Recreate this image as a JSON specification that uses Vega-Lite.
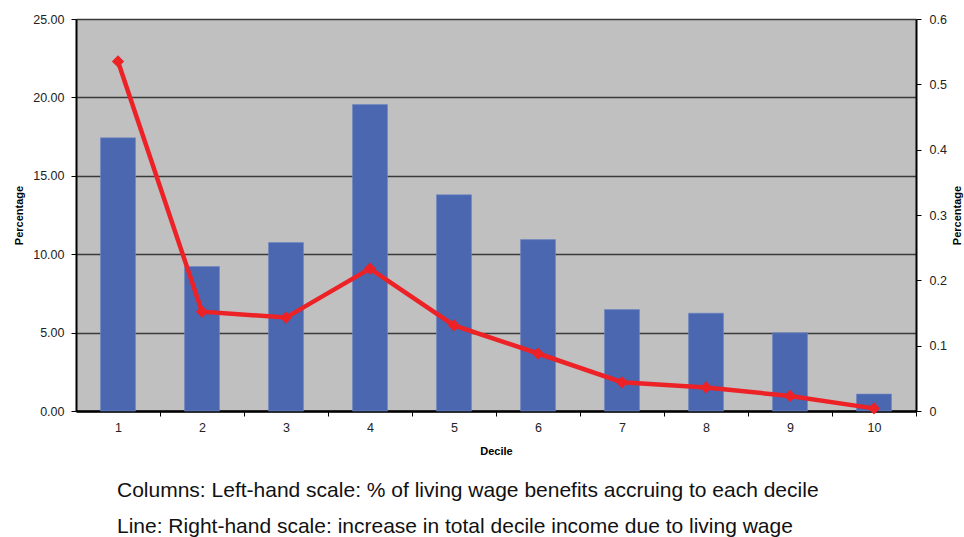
{
  "$schema": "https://vega.github.io/schema/vega-lite/v6.json",
  "autosize": "none",
  "width": 840,
  "height": 392,
  "padding": {"left": 76, "top": 19, "right": 48, "bottom": 126},
  "background": "white",
  "config": {
    "font": "Liberation Sans",
    "view": {"fill": "#c0c0c0", "stroke": null},
    "axis": {
      "labelFont": "Liberation Sans",
      "labelFontSize": 12.5,
      "labelColor": "#222222",
      "labelOverlap": false,
      "titleFont": "Liberation Sans",
      "titleFontSize": 11,
      "titleFontWeight": "bold",
      "titleColor": "#000000",
      "domainColor": "#000000",
      "domainWidth": 2,
      "tickColor": "#000000",
      "tickSize": 5,
      "tickWidth": 1
    }
  },
  "title": {
    "text": [
      "Columns: Left-hand scale: % of living wage benefits accruing to each decile",
      "Line: Right-hand scale: increase in total decile income due to living wage"
    ],
    "orient": "bottom",
    "anchor": "start",
    "frame": "group",
    "dx": 41,
    "offset": 23,
    "font": "Liberation Sans",
    "fontSize": 21,
    "fontWeight": "normal",
    "color": "#111111",
    "lineHeight": 36
  },
  "data": {
    "values": [
      {"decile": 1, "benefit_share": 17.42, "income_increase": 0.535},
      {"decile": 2, "benefit_share": 9.21, "income_increase": 0.152},
      {"decile": 3, "benefit_share": 10.74, "income_increase": 0.143},
      {"decile": 4, "benefit_share": 19.54, "income_increase": 0.218},
      {"decile": 5, "benefit_share": 13.79, "income_increase": 0.131},
      {"decile": 6, "benefit_share": 10.93, "income_increase": 0.088},
      {"decile": 7, "benefit_share": 6.47, "income_increase": 0.044},
      {"decile": 8, "benefit_share": 6.24, "income_increase": 0.036},
      {"decile": 9, "benefit_share": 4.99, "income_increase": 0.023},
      {"decile": 10, "benefit_share": 1.08, "income_increase": 0.004}
    ]
  },
  "encoding": {
    "x": {
      "field": "decile",
      "type": "ordinal",
      "scale": {"paddingInner": 0.583, "paddingOuter": 0.2915},
      "axis": {
        "title": "Decile",
        "titlePadding": 12,
        "labelAngle": 0,
        "labelPadding": 5,
        "tickOffset": 42,
        "labelOffset": -42,
        "domainWidth": 2.5
      }
    }
  },
  "layer": [
    {
      "mark": {"type": "bar", "color": "#4a67b0", "stroke": "#6f87c4", "strokeWidth": 0.6},
      "encoding": {
        "y": {
          "field": "benefit_share",
          "type": "quantitative",
          "scale": {"domain": [0, 25], "nice": false},
          "axis": {
            "title": "Percentage",
            "titlePadding": 8,
            "format": ".2f",
            "values": [0, 5, 10, 15, 20, 25],
            "labelPadding": 7,
            "grid": true,
            "gridColor": "#3a3a3a",
            "gridWidth": 1.5
          }
        }
      }
    },
    {
      "mark": {"type": "line", "color": "#ec2227", "strokeWidth": 4.5, "point": {"shape": "diamond", "size": 150, "filled": true, "color": "#ec2227"}},
      "encoding": {
        "y": {
          "field": "income_increase",
          "type": "quantitative",
          "scale": {"domain": [0, 0.6], "nice": false},
          "axis": {
            "orient": "right",
            "title": "Percentage",
            "titleAngle": 270,
            "titlePadding": 16,
            "values": [0, 0.1, 0.2, 0.3, 0.4, 0.5, 0.6],
            "format": ".1~f",
            "labelPadding": 8,
            "grid": false
          }
        }
      }
    }
  ],
  "resolve": {"scale": {"y": "independent"}}
}
